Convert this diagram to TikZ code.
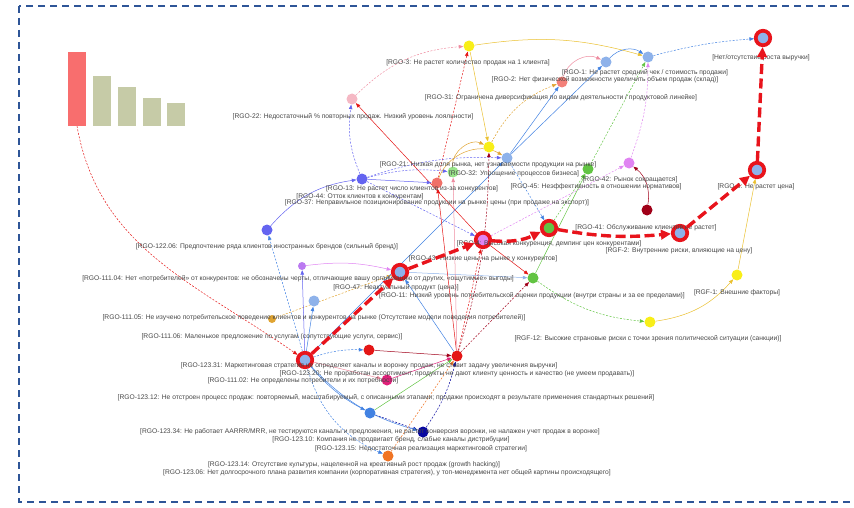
\documentclass[tikz,border=0pt]{standalone}
\usepackage{fontspec}
\setmainfont{Liberation Sans}
\usetikzlibrary{arrows.meta, backgrounds}

\definecolor{ringred}{HTML}{E8141C}
\definecolor{nodeblue}{HTML}{8EB2EA}
\definecolor{yelnode}{HTML}{F8EE18}
\definecolor{yeledge}{HTML}{EAC030}
\definecolor{pinknode}{HTML}{F5B8C4}
\definecolor{pinkedge}{HTML}{EE8CA0}
\definecolor{rednode}{HTML}{E41616}
\definecolor{salmon}{HTML}{F07068}
\definecolor{lgreen}{HTML}{98E488}
\definecolor{gnode}{HTML}{62C443}
\definecolor{violetn}{HTML}{E084F2}
\definecolor{bviolet}{HTML}{6464F0}
\definecolor{darkredn}{HTML}{A00018}
\definecolor{magentan}{HTML}{E0207A}
\definecolor{bluen}{HTML}{4282E2}
\definecolor{navyn}{HTML}{0808A0}
\definecolor{orangen}{HTML}{F07424}
\definecolor{ochre}{HTML}{E0A432}
\definecolor{barred}{HTML}{F86E6E}
\definecolor{barolive}{HTML}{C6CBA7}
\definecolor{frameblue}{HTML}{2E5597}

\begin{document}
\begin{tikzpicture}[x=1pt, y=-1pt,
    >={Triangle[length=4.5pt,width=3.5pt]},
    dot/.style={circle, inner sep=0pt, minimum size=11pt},
    sdot/.style={circle, inner sep=0pt, minimum size=8pt},
    ring/.style={circle, inner sep=0pt, minimum size=14.5pt, draw=ringred,
                 line width=3.7pt, fill=nodeblue},
    lbl/.style={inner sep=0pt, font=\fontsize{6.7}{7}\selectfont, text=black!72},
    lk/.style={->, line width=0.5pt},
    lkd/.style={lk, dash pattern=on 2pt off 1.5pt},
    crit/.style={->, ringred, line width=3.4pt, dash pattern=on 10pt off 4.5pt,
                 >={Triangle[length=10pt,width=9.5pt]}},
    barbox/.style={anchor=south, minimum width=18pt, inner sep=0pt}
  ]
  \useasboundingbox (0,0) rectangle (854,508);
  \draw[frameblue, line width=2pt, dash pattern=on 7pt off 5pt] (19,6) rectangle (880,502);

  % столбцы
  \node[barbox, fill=barred, minimum height=74pt] (Bar1) at (77,126) {};
  \node[barbox, fill=barolive, minimum height=50pt] (Bar2) at (101.5,126) {};
  \node[barbox, fill=barolive, minimum height=39pt] (Bar3) at (127,126) {};
  \node[barbox, fill=barolive, minimum height=28pt] (Bar4) at (151.5,126) {};
  \node[barbox, fill=barolive, minimum height=23pt] (Bar5) at (175.5,126) {};

  % узлы критического пути
  \node[ring] (Rev) at (763,38) {};
  \node[ring] (Price) at (757,170) {};
  \node[ring] (F2) at (680,233) {};
  \node[ring, fill=gnode] (S41) at (549,228) {};
  \node[ring, fill=violetn] (Comp) at (483,240) {};
  \node[ring] (S43) at (400,272) {};
  \node[ring] (Mkt) at (305,360) {};

  % прочие узлы
  \node[dot, fill=yelnode] (Q3) at (469,46) {};
  \node[dot, fill=nodeblue] (B1) at (606,62) {};
  \node[dot, fill=nodeblue] (B2) at (648,57) {};
  \node[dot, fill=salmon!80!pink] (R2) at (562,82) {};
  \node[dot, fill=pinknode] (P22) at (352,99) {};
  \node[dot, fill=yelnode] (Y4) at (489,147) {};
  \node[dot, fill=nodeblue] (B5) at (507,158) {};
  \node[dot, fill=lgreen] (G6) at (453,172) {};
  \node[dot, fill=salmon] (R7) at (437,183) {};
  \node[dot, fill=bviolet] (P8) at (362,179) {};
  \node[dot, fill=gnode] (G9) at (588,169) {};
  \node[dot, fill=violetn] (V10) at (629,163) {};
  \node[dot, fill=darkredn] (DR) at (647,210) {};
  \node[dot, fill=bviolet] (P11) at (267,230) {};
  \node[sdot, fill=violetn!70!bviolet] (V12) at (302,266) {};
  \node[dot, fill=nodeblue] (B13) at (314,301) {};
  \node[sdot, fill=ochre] (O14) at (272,319) {};
  \node[dot, fill=gnode] (G15) at (533,278) {};
  \node[dot, fill=yelnode] (Y16) at (737,275) {};
  \node[dot, fill=yelnode] (Y17) at (650,322) {};
  \node[dot, fill=rednode] (R18) at (369,350) {};
  \node[dot, fill=rednode] (R19) at (457,356) {};
  \node[dot, fill=magentan] (M20) at (387,380) {};
  \node[dot, fill=bluen] (B21) at (370,413) {};
  \node[dot, fill=navyn] (N22) at (423,432) {};
  \node[dot, fill=orangen] (O23) at (388,456) {};

  % подписи
  \node[lbl] (tRev) at (761,58) {[Нет/отсутствие роста выручки]};
  \node[lbl] (tQ3) at (468,63) {[RGO-3: Не растет количество продаж на 1 клиента]};
  \node[lbl] (tB1) at (645,73) {[RGO-1: Не растет средний чек / стоимость продажи]};
  \node[lbl] (tR2) at (605,80) {[RGO-2: Нет физической возможности увеличить объем продаж (склад)]};
  \node[lbl] (tB2) at (561,98) {[RGO-31: Ограничена диверсификация по видам деятельности / продуктовой линейке]};
  \node[lbl] (tP22) at (353,117) {[RGO-22: Недостаточный \% повторных продаж. Низкий уровень лояльности]};
  \node[lbl] (tY4) at (488,165) {[RGO-21: Низкая доля рынка, нет узнаваемости продукции на рынке]};
  \node[lbl] (tG6) at (514,174) {[RGO-32: Упрощение процессов бизнеса]};
  \node[lbl] (tG9) at (630,180) {[RGO-42: Рынок сокращается]};
  \node[lbl] (tR7) at (412,189) {[RGO-13: Не растет число клиентов из-за конкурентов]};
  \node[lbl] (tV10) at (596,187) {[RGO-45: Неэффективность в отношении нормативов]};
  \node[lbl] (tPrice) at (756,187) {[RGO-6: Не растет цена]};
  \node[lbl] (tP8) at (360,197) {[RGO-44: Отток клиентов к конкурентам]};
  \node[lbl] (tB5) at (437,203) {[RGO-37: Неправильное позиционирование продукции на рынке, цены (при продаже на экспорт)]};
  \node[lbl] (tS41) at (646,228) {[RGO-41: Обслуживание клиентов не растет]};
  \node[lbl] (tP11) at (267,247) {[RGO-122.06: Предпочтение ряда клиентов иностранных брендов (сильный бренд)]};
  \node[lbl] (tComp) at (549,244) {[RGO-4: Высокая конкуренция, демпинг цен конкурентами]};
  \node[lbl] (tF2) at (679,251) {[RGF-2: Внутренние риски, влияющие на цену]};
  \node[lbl] (tS43) at (483,259) {[RGO-43: Низкие цены на рынке у конкурентов]};
  \node[lbl] (tV12) at (298,279) {[RGO-111.04: Нет «потребителей» от конкурентов: не обозначены черты, отличающие вашу организацию от других, «ощутимые» выгоды]};
  \node[lbl] (tB13) at (396,288) {[RGO-47: Неактуальный продукт (цена)]};
  \node[lbl] (tG15) at (532,296) {[RGO-11: Низкий уровень потребительской оценки продукции (внутри страны и за ее пределами)]};
  \node[lbl] (tY16) at (737,293) {[RGF-1: Внешние факторы]};
  \node[lbl] (tO14) at (314,318) {[RGO-111.05: Не изучено потребительское поведение клиентов и конкурентов на рынке (Отсутствие модели поведения потребителей)]};
  \node[lbl] (tR18) at (272,337) {[RGO-111.06: Маленькое предложение по услугам (сопутствующие услуги, сервис)]};
  \node[lbl] (tY17) at (648,339) {[RGF-12: Высокие страновые риски с точки зрения политической ситуации (санкции)]};
  \node[lbl] (tMkt) at (369,366) {[RGO-123.31: Маркетинговая стратегия не определяет каналы и воронку продаж, не ставит задачу увеличения выручки]};
  \node[lbl] (tR19) at (457,374) {[RGO-123.20: Не проработан ассортимент, продукты не дают клиенту ценность и качество (не умеем продавать)]};
  \node[lbl] (tM20) at (303,381) {[RGO-111.02: Не определены потребители и их потребности]};
  \node[lbl] (tB21) at (386,398) {[RGO-123.12: Не отстроен процесс продаж: повторяемый, масштабируемый, с описанными этапами; продажи происходят в результате применения стандартных решений]};
  \node[lbl] (tN22) at (370,432) {[RGO-123.34: Не работает AARRR/MRR, не тестируются каналы и предложения, не растет конверсия воронки, не налажен учет продаж в воронке]};
  \node[lbl] (tN22b) at (391,439.5) {[RGO-123.10: Компания не продвигает бренд, слабые каналы дистрибуции]};
  \node[lbl] (tO23) at (421,449) {[RGO-123.15: Недостаточная реализация маркетинговой стратегии]};
  \node[lbl] (tO23b) at (354,465) {[RGO-123.14: Отсутствие культуры, нацеленной на креативный рост продаж (growth hacking)]};
  \node[lbl] (tO23c) at (387,473) {[RGO-123.06: Нет долгосрочного плана развития компании (корпоративная стратегия), у топ-менеджмента нет общей картины происходящего]};

  \begin{scope}[on background layer]
    % верхняя часть
    \draw[lk, yeledge] (Q3) to[bend left=12] (B2);
    \draw[lkd, pinkedge] (P22) to[bend left=20] (Q3);
    \draw[lk, bluen] (B1) to[bend left=40] (B2);
    \draw[lkd, bluen] (B2) to[bend left=5] (Rev);
    \draw[lkd, rednode] (R7) to (Q3);
    \draw[lk, yeledge] (Q3) to (Y4);
    \draw[lk, pinkedge] (R2) to[bend left=50] (B1);
    \draw[lkd, ochre] (Y4) to[bend left=20] (R2);
    \draw[lk, bluen] (B5) to (R2);
    \draw[lk, bluen] (B5) to (B1);
    \draw[lkd, gnode] (S41) to (G9);
    \draw[lkd, gnode] (G9) to (B2);
    \draw[lkd, violetn] (V10) to[bend right=10] (B2);
    \draw[lkd, violetn] (Comp) to (V10);
    \draw[lk, darkredn] (DR) to[bend right=30] (V10);
    % правая часть
    \draw[lk, yeledge] (Y17) to[bend right=20] (Y16);
    \draw[lk, yeledge] (Y16) to (Price);
    \draw[lkd, gnode] (G15) to[bend right=15] (Y17);
    \draw[lk, gnode] (G15) to (G9);
    % центр
    \draw[lk, rednode] (Comp) to (P22);
    \draw[lkd, bviolet] (P8) to[bend left=15] (P22);
    \draw[lk, bviolet] (P8) to (R7);
    \draw[lkd, bviolet] (P8) to[bend left=10] (G6);
    \draw[lkd, bviolet] (P8) to[bend left=10] (B5);
    \draw[lkd, bviolet] (P8) to (Comp);
    \draw[lk, bviolet] (P11) to[bend left=20] (P8);
    \draw[lk, ochre] (G6) to[bend left=60] (Y4);
    \draw[lk, ochre] (R7) to[bend left=50] (B5);
    \draw[lkd, bluen] (B5) to (S41);
    \draw[lk, rednode] (Comp) to (G15);
    \draw[lk, nodeblue] (S43) to (G15);
    % левая часть
    \draw[lkd, bluen] (Mkt) to (P11);
    \draw[lk, violetn] (V12) to[bend left=10] (S43);
    \draw[lkd, ochre] (O14) to (S43);
    \draw[lk, bluen] (Mkt) to (B13);
    \draw[lk, bviolet] (Mkt) to (V12);
    \draw[lk, bluen] (Mkt) to (B5);
    \draw[lkd, rednode] (Bar1.south) to[out=-80, in=145] (Mkt);
    % нижняя часть
    \draw[lkd, bluen] (Mkt) to[bend left=10] (R18);
    \draw[lk, darkredn] (R18) to (R19);
    \draw[lk, pinkedge] (Mkt) to (M20);
    \draw[lk, bluen] (Mkt) to[bend right=10] (B21);
    \draw[lkd, navyn] (B21) to (N22);
    \draw[lk, bluen] (Mkt) to[bend right=15] (N22);
    \draw[lkd, bluen] (Mkt) to[bend right=25] (O23);
    \draw[lkd, navyn] (N22) to[bend right=10] (R19);
    \draw[lkd, orangen] (O23) to (R19);
    \draw[lk, gnode] (B21) to (R19);
    \draw[lk, magentan] (M20) to (R19);
    \draw[lkd, darkredn] (R19) to (G15);
    \draw[lk, rednode] (R19) to (R7);
    \draw[lkd, rednode] (R19) to (Comp);
    \draw[lk, bluen] (R19) to (S43);
    \draw[lk, pinkedge] (R19) to (G6);
    \draw[lkd, darkredn] (R19) to[bend right=8] (Y4);
  \end{scope}

  % критический путь
  \draw[crit] (Mkt) -- (S43);
  \draw[crit] (S43) -- (Comp);
  \draw[crit] (Comp) to[bend right=15] (S41);
  \draw[crit] (S41) to[out=-10, in=185] (F2);
  \draw[crit] (F2) -- (Price);
  \draw[crit] (Price) -- (Rev);
\end{tikzpicture}
\end{document}
